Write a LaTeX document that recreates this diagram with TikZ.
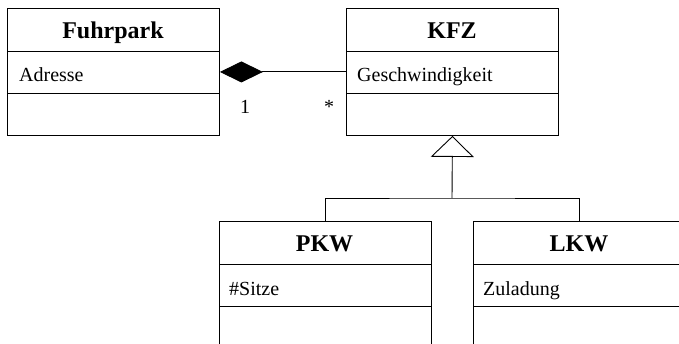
\documentclass[tikz,border=0pt]{standalone}
\usepackage{fontspec}
\setmainfont{Liberation Serif}
\usetikzlibrary{arrows.meta}
\begin{document}
\begin{tikzpicture}[x=1pt,y=-1pt,
  classbox/.style={draw,line width=0.9pt,minimum width=212pt,minimum height=127pt,inner sep=0pt,anchor=north west},
  ctitle/.style={font=\fontsize{24}{28}\selectfont\bfseries,anchor=base,inner sep=0pt},
  cattr/.style={font=\fontsize{20}{24}\selectfont,anchor=base west,inner sep=0pt},
  mult/.style={font=\fontsize{20}{24}\selectfont,anchor=base,inner sep=0pt},
  conn/.style={line width=0.9pt}]
\useasboundingbox (0,0) rectangle (679,344);
% class boxes
\node[classbox] (fuhrpark) at (7,8) {};
\node[classbox] (kfz) at (346,8) {};
\node[classbox] (pkw) at (219,221) {};
\node[classbox] (lkw) at (473,221) {};
% compartments
\foreach \c in {fuhrpark,kfz,pkw,lkw}{
  \draw[conn] (\c.north west) ++(0,43) -- ++(212,0);
  \draw[conn] (\c.north west) ++(0,85) -- ++(212,0);
}
% titles
\node[ctitle] (fuhrparkT) at (113,38.3) {Fuhrpark};
\node[ctitle] (kfzT) at (452,38.3) {KFZ};
\node[ctitle] (pkwT) at (324.5,251.7) {PKW};
\node[ctitle] (lkwT) at (579,251.7) {LKW};
% attributes
\node[cattr] (fuhrparkA) at (19,81.7) {Adresse};
\node[cattr] (kfzA) at (357,81.7) {Geschwindigkeit};
\node[cattr] (pkwA) at (229,295) {\#Sitze};
\node[cattr] (lkwA) at (483,295) {Zuladung};
% composition
\draw[conn,-{Diamond[length=43pt,width=21pt,fill=black]}] (kfz.west) -- (fuhrpark.east);
\node[mult] (m1) at (245,113.3) {1};
\node[mult] (m2) at (329,113.3) {*};
% generalization
\coordinate (join) at (452,198);
\draw[conn] (pkw.north) |- (join) -| (lkw.north);
\draw[conn,-{Triangle[open,length=21pt,width=43pt,fill=white]}] (join) -- (kfz.south);
\end{tikzpicture}
\end{document}
